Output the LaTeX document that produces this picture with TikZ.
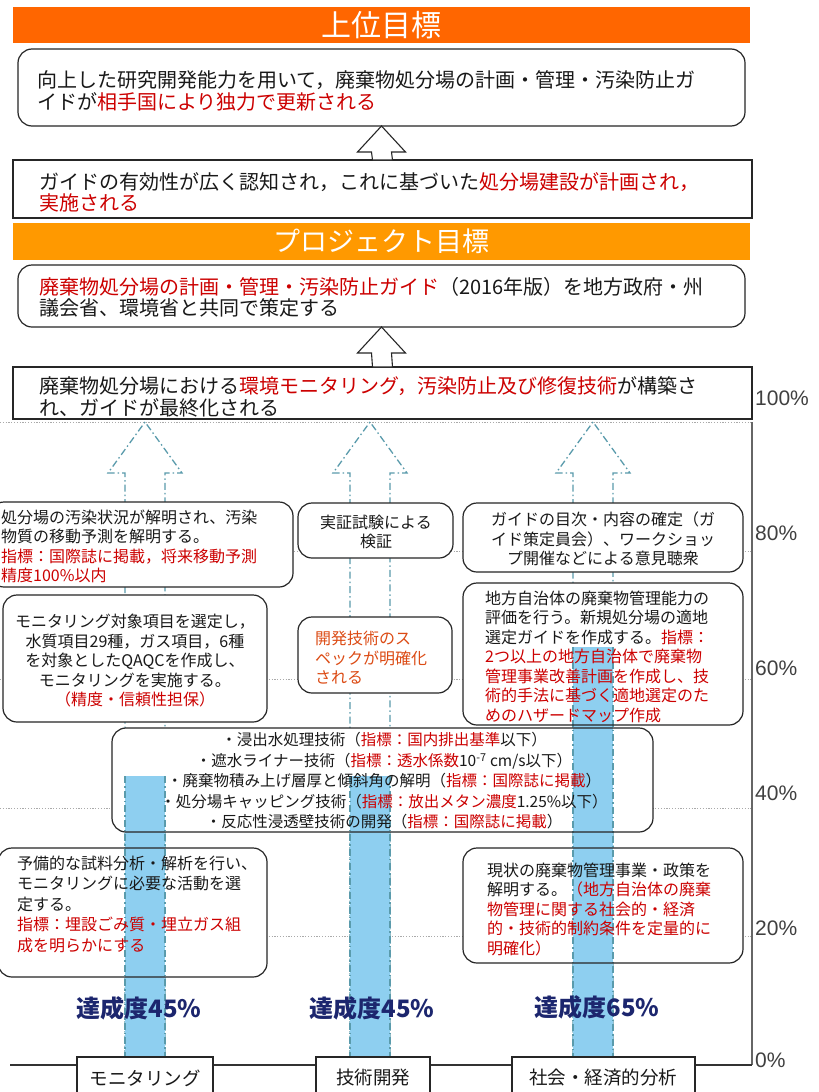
\documentclass[tikz,border=0pt]{standalone}
\usepackage{fontspec}
\setmainfont{Noto Sans CJK JP}
\newfontfamily\latinsans{Liberation Sans}
\usetikzlibrary{calc}
\definecolor{orgA}{RGB}{255,102,0}
\definecolor{orgB}{RGB}{255,153,0}
\definecolor{jred}{RGB}{204,0,0}
\definecolor{jorg}{RGB}{220,75,20}
\definecolor{barblue}{RGB}{142,207,240}
\definecolor{dashteal}{RGB}{90,155,172}
\definecolor{gridgray}{RGB}{170,170,170}
\definecolor{navyt}{RGB}{28,38,110}
\definecolor{pctgray}{RGB}{64,64,64}
\pgfdeclarelayer{grid}
\pgfdeclarelayer{fills}
\pgfdeclarelayer{bars}
\pgfsetlayers{grid,fills,bars,main}
\newcommand\fsTop{\fontsize{20}{21.5}\selectfont}
\newcommand\fsMid{\fontsize{16}{19.5}\selectfont}
\newcommand\fsMidB{\fontsize{16}{20.5}\selectfont}
\newcommand\fsTech{\fontsize{15.5}{20.5}\selectfont}
\newcommand\fsCat{\fontsize{18.5}{20}\selectfont}
\newcommand\fsPct{\latinsans\fontsize{21}{21}\selectfont}
\newcommand\fsAch{\bfseries\fontsize{24}{24}\selectfont}
\tikzset{
  rbox/.style={draw=black!85, line width=1.2pt, rounded corners=14pt, inner sep=0pt, outer sep=0pt, anchor=north west},
  sbox/.style={draw=black!85, line width=1.2pt, inner sep=0pt, outer sep=0pt, anchor=north west},
  titlebar/.style={inner sep=0pt, outer sep=0pt, anchor=north west, text=white},
  ltxt/.style={inner sep=0pt, anchor=west, align=left, text=black!90},
  ctxt/.style={inner sep=0pt, anchor=center, align=center, text=black!90},
  harrow/.style={draw=black!85, fill=white, line width=1.1pt, line join=miter},
  gridln/.style={draw=gridgray, line width=1pt, dash pattern=on 1.2pt off 1.6pt},
  darrow/.style={draw=dashteal, line width=1.3pt, dash pattern=on 7pt off 3pt on 1.5pt off 3pt},
  pct/.style={inner sep=0pt, anchor=west, text=pctgray, font=\fsPct},
  ach/.style={inner sep=0pt, anchor=center, text=navyt, font=\fsAch},
}
\newcommand\rbx[5]{%
  \pgfmathsetmacro\mybw{#4-#2}\pgfmathsetmacro\mybh{#5-#3}%
  \begin{pgfonlayer}{fills}\fill[white,rounded corners=14pt] (#2,#3) rectangle (#4,#5);\end{pgfonlayer}%
  \node[rbox, minimum width=\mybw pt, minimum height=\mybh pt] (#1) at (#2,#3) {};}
\newcommand\sbx[5]{%
  \pgfmathsetmacro\mybw{#4-#2}\pgfmathsetmacro\mybh{#5-#3}%
  \begin{pgfonlayer}{fills}\fill[white] (#2,#3) rectangle (#4,#5);\end{pgfonlayer}%
  \node[sbox, minimum width=\mybw pt, minimum height=\mybh pt] (#1) at (#2,#3) {};}
\begin{document}
\begin{tikzpicture}[x=1pt,y=-1pt]
\useasboundingbox (0,0) rectangle (819,1092);
\begin{pgfonlayer}{grid}
  \fill[white] (0,0) rectangle (819,1092);
  \foreach \yy in {422,551,679,808,936} \draw[gridln] (0,\yy) -- (752,\yy);
  \draw[draw=black!60, line width=1.3pt] (752,422) -- (752,1065);
  \draw[draw=black!80, line width=1.2pt] (10,1065) -- (752,1065);
  \draw[darrow] (125,1057) -- (125,473) -- (108,473) -- (145,422) -- (182,473) -- (165,473) -- (165,1057);
  \draw[darrow] (350,1057) -- (350,473) -- (333,473) -- (370,422) -- (407,473) -- (390,473) -- (390,1057);
  \draw[darrow] (573,1057) -- (573,473) -- (556,473) -- (593,422) -- (630,473) -- (613,473) -- (613,1057);
\end{pgfonlayer}
\begin{pgfonlayer}{bars}
  \fill[barblue] (125,776) rectangle (165,1057);
  \fill[barblue] (350,776) rectangle (390,1057);
  \fill[barblue] (573,647) rectangle (613,1057);
  \draw[darrow] (125,776) -- (125,1057) (165,776) -- (165,1057);
  \draw[darrow] (350,776) -- (350,1057) (390,776) -- (390,1057);
  \draw[darrow] (573,647) -- (573,1057) (613,647) -- (613,1057);
\end{pgfonlayer}

% title bars
\node[titlebar, fill=orgA, minimum width=737pt, minimum height=36pt, font=\fontsize{30}{30}\selectfont] (T1) at (13,7) {上位目標};
\node[titlebar, fill=orgB, minimum width=737pt, minimum height=37pt, font=\fontsize{27}{27}\selectfont] (T2) at (13,223) {プロジェクト目標};

% top boxes
\rbx{B1}{18}{49}{745}{126}
\sbx{B2}{13}{160}{752}{218}
\rbx{B3}{18}{265}{745}{327}
\sbx{B4}{13}{367}{752}{419}
\node[ltxt, font=\fsTop] (b1t) at (37,91) {向上した研究開発能力を用いて，廃棄物処分場の計画・管理・汚染防止ガ\\イドが\textcolor{jred}{相手国により独力で更新される}};
\node[ltxt, font=\fsTop] (b2t) at (39,192.5) {ガイドの有効性が広く認知され，これに基づいた\textcolor{jred}{処分場建設が計画され，}\\\textcolor{jred}{実施される}};
\node[ltxt, font=\fsTop] (b3t) at (39,297.5) {\textcolor{jred}{廃棄物処分場の計画・管理・汚染防止ガイド}（2016年版）を地方政府・州\\議会省、環境省と共同で策定する};
\node[ltxt, font=\fsTop] (b4t) at (39,397) {廃棄物処分場における\textcolor{jred}{環境モニタリング，汚染防止及び修復技術}が構築さ\\れ、ガイドが最終化される};

% hollow arrows
\draw[harrow] (B1.south) -- ++(-24,26) -- ++(14,0) -- ($(B2.north)+(-10,0)$) -- ($(B2.north)+(10,0)$) -- ($(B1.south)+(10,26)$) -- ($(B1.south)+(24,26)$) -- cycle;
\draw[harrow] (B3.south) -- ++(-24,26) -- ++(14,0) -- ($(B4.north)+(-10,0)$) -- ($(B4.north)+(10,0)$) -- ($(B3.south)+(10,26)$) -- ($(B3.south)+(24,26)$) -- cycle;

% middle boxes
\rbx{MA}{-10}{502}{293}{587}
\rbx{MB}{3}{595}{267}{722}
\rbx{MC}{298}{503}{453}{558}
\rbx{MD}{298}{617}{452}{693}
\rbx{ME}{463}{503}{743}{572}
\rbx{MF}{463}{583}{743}{725}
\rbx{MG}{112}{728}{653}{832}
\rbx{MH}{-2}{848}{267}{977}
\rbx{MI}{463}{848}{743}{963}
\sbx{K1}{77}{1057}{213}{1100}
\sbx{K2}{316}{1057}{430}{1100}
\sbx{K3}{512}{1057}{695}{1100}

\node[ltxt, font=\fsMid] (mat) at (1,546.5) {処分場の汚染状況が解明され、汚染\\物質の移動予測を解明する。\\\textcolor{jred}{指標：国際誌に掲載，将来移動予測}\\\textcolor{jred}{精度100\%以内}};
\node[ctxt, font=\fsMid] (mbt) at (135,661) {モニタリング対象項目を選定し，\\水質項目29種，ガス項目，6種\\を対象としたQAQCを作成し、\\モニタリングを実施する。\\\textcolor{jred}{（精度・信頼性担保）}};
\node[ctxt, font=\fsMid] (mct) at (376,532) {実証試験による\\検証};
\node[ltxt, font=\fsMid, text=jorg] (mdt) at (315,658) {開発技術のス\\ペックが明確化\\される};
\node[ctxt, font=\fsMid] (met) at (603,539) {ガイドの目次・内容の確定（ガ\\イド策定員会）、ワークショッ\\プ開催などによる意見聴衆};
\node[ltxt, font=\fsMid] (mft) at (485,656.5) {地方自治体の廃棄物管理能力の\\評価を行う。新規処分場の適地\\選定ガイドを作成する。\textcolor{jred}{指標：}\\\textcolor{jred}{2つ以上の地方自治体で廃棄物}\\\textcolor{jred}{管理事業改善計画を作成し、技}\\\textcolor{jred}{術的手法に基づく適地選定のた}\\\textcolor{jred}{めのハザードマップ作成}};
\node[ctxt, font=\fsTech] (mgt) at (384,781) {・浸出水処理技術（\textcolor{jred}{指標：国内排出基準}以下）\\・遮水ライナー技術（\textcolor{jred}{指標：透水係数}10\textsuperscript{-7} cm/s以下）\\・廃棄物積み上げ層厚と傾斜角の解明（\textcolor{jred}{指標：国際誌に掲載}）\\・処分場キャッピング技術（\textcolor{jred}{指標：放出メタン濃度}1.25\%以下）\\・反応性浸透壁技術の開発（\textcolor{jred}{指標：国際誌に掲載}）};
\node[ltxt, font=\fsMidB] (mht) at (17,904) {予備的な試料分析・解析を行い、\\モニタリングに必要な活動を選\\定する。\\\textcolor{jred}{指標：埋設ごみ質・埋立ガス組}\\\textcolor{jred}{成を明らかにする}};
\node[ltxt, font=\fsMid] (mit) at (487,909) {現状の廃棄物管理事業・政策を\\解明する。\textcolor{jred}{（地方自治体の廃棄}\\\textcolor{jred}{物管理に関する社会的・経済}\\\textcolor{jred}{的・技術的制約条件を定量的に}\\\textcolor{jred}{明確化）}};

\node[ctxt, font=\fsCat] (k1t) at (145,1078) {モニタリング};
\node[ctxt, font=\fsCat] (k2t) at (373,1078) {技術開発};
\node[ctxt, font=\fsCat] (k3t) at (603,1078) {社会・経済的分析};

\node[ach] (a1) at (139,1008) {達成度45\%};
\node[ach] (a2) at (372,1008) {達成度45\%};
\node[ach] (a3) at (597,1007) {達成度65\%};

\node[pct] (p100) at (755,398) {100\%};
\node[pct] (p80) at (755,533) {80\%};
\node[pct] (p60) at (755,668) {60\%};
\node[pct] (p40) at (755,793) {40\%};
\node[pct] (p20) at (755,928) {20\%};
\node[pct] (p0) at (755,1060) {0\%};
\end{tikzpicture}
\end{document}
